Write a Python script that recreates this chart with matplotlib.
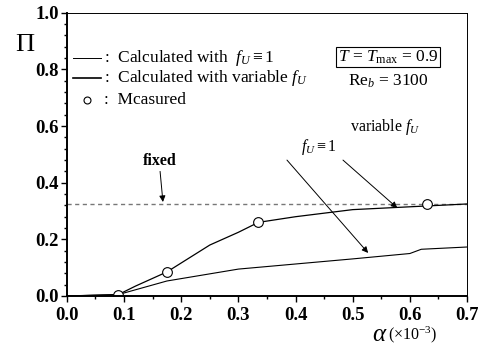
import matplotlib
matplotlib.use("Agg")
import matplotlib.pyplot as plt
from matplotlib.ticker import MultipleLocator

plt.rcParams['font.family'] = ['Liberation Serif', 'DejaVu Serif']
plt.rcParams['mathtext.fontset'] = 'custom'
plt.rcParams['mathtext.rm'] = 'Liberation Serif'
plt.rcParams['mathtext.it'] = 'Liberation Serif:italic'

# data
alpha_var = [0.0, 0.09, 0.12, 0.175, 0.25, 0.30, 0.335, 0.40, 0.50, 0.60, 0.70]
pi_var = [0.0, 0.005, 0.035, 0.085, 0.18, 0.225, 0.26, 0.28, 0.305, 0.315, 0.325]
alpha_one = [0.0, 0.09, 0.175, 0.30, 0.40, 0.50, 0.60, 0.62, 0.70]
pi_one = [0.0, 0.005, 0.053, 0.095, 0.113, 0.131, 0.150, 0.165, 0.173]
alpha_meas = [0.09, 0.175, 0.335, 0.63]
pi_meas = [0.003, 0.085, 0.26, 0.325]
pi_fixed = 0.325
xticks = [0.0, 0.1, 0.2, 0.3, 0.4, 0.5, 0.6, 0.7]
yticks = [0.0, 0.2, 0.4, 0.6, 0.8, 1.0]

fig = plt.figure(figsize=(4.78, 3.47), dpi=100)
ax = fig.add_axes([0.140, 0.147, 0.837, 0.816])

ax.axhline(pi_fixed, color='#777777', lw=1.0, ls=(0, (3, 2.5)))
ax.plot(alpha_one, pi_one, color='black', lw=0.8)
ax.plot(alpha_var, pi_var, color='black', lw=0.9)
ax.plot(alpha_meas, pi_meas, 'o', mfc='white', mec='black', ms=7, mew=0.8)

ax.set_xlim(0, 0.7)
ax.set_ylim(0, 1.0)
ax.set_xticks(xticks)
ax.set_yticks(yticks)
ax.xaxis.set_minor_locator(MultipleLocator(0.05))
ax.yaxis.set_minor_locator(MultipleLocator(0.04))
ax.set_xticklabels(['%.1f' % v for v in xticks], fontweight='bold', fontsize=13.5)
ax.set_yticklabels(['%.1f' % v for v in yticks], fontweight='bold', fontsize=13.5)
ax.tick_params(which='both', direction='out', width=1)
ax.tick_params(axis='x', pad=4)
ax.tick_params(axis='y', pad=2)
ax.tick_params(which='major', length=4)
ax.tick_params(which='minor', length=2)
ax.spines['left'].set_linewidth(1.4)
ax.spines['bottom'].set_linewidth(1.4)
ax.spines['top'].set_linewidth(0.7)
ax.spines['right'].set_linewidth(0.7)

tr = fig.transFigure
def fx(px):
    return px / 478
def fy(py):
    return 1 - py / 347

# y label
fig.text(fx(25), fy(45), r'$\Pi$', fontsize=19, ha='center', va='center')
# x label
fig.text(fx(380), fy(335), r'$\alpha$', fontsize=18, ha='center', va='center')
fig.text(fx(413), fy(335), r'(×10$^{-3}$)', fontsize=11.5, ha='center', va='center')

# legend drawn manually
fig.lines.append(plt.Line2D([fx(73), fx(101)], [fy(58), fy(58)], transform=tr, color='black', lw=0.7))
fig.lines.append(plt.Line2D([fx(73), fx(101)], [fy(78), fy(78)], transform=tr, color='black', lw=1.2))
fig.lines.append(plt.Line2D([fx(87)], [fy(100)], transform=tr, marker='o', mfc='white', mec='black', ms=5, mew=0.8, ls='none'))
fs = 12.5
fig.text(fx(104), fy(58), ':  Calculated with  $f_U \\equiv 1$', fontsize=fs, va='center', ha='left')
fig.text(fx(104), fy(78), ':  Calculated with variable $f_U$', fontsize=fs, va='center', ha='left')
fig.text(fx(104), fy(100), ':  Mcasured', fontsize=fs, va='center', ha='left')

# boxed text
fig.text(fx(388), fy(57), r'$T$ = $T_{\rm max}$ = 0.9', fontsize=12.5, ha='center', va='center',
         bbox=dict(boxstyle='square,pad=0.1', fc='white', ec='black', lw=0.8))
fig.text(fx(388), fy(81), r'Re$_b$ = 3100', fontsize=12.5, ha='center', va='center')

# annotations
ax.text(0.163, 0.475, 'fixed', fontsize=11.5, fontweight='bold', ha='center', va='center')
ax.text(0.44, 0.527, r'$f_U \equiv 1$', fontsize=11.5, ha='center', va='center')
ax.text(0.557, 0.597, r'variable $f_U$', fontsize=11.5, ha='center', va='center')
arrow = dict(arrowstyle='-|>', color='black', lw=0.7, mutation_scale=9, shrinkA=0, shrinkB=0)
ax.annotate('', xy=(0.168, 0.332), xytext=(0.163, 0.44), arrowprops=arrow)
ax.annotate('', xy=(0.527, 0.152), xytext=(0.385, 0.48), arrowprops=arrow)
ax.annotate('', xy=(0.578, 0.311), xytext=(0.483, 0.48), arrowprops=arrow)

fig.savefig('out.png', dpi=100)
